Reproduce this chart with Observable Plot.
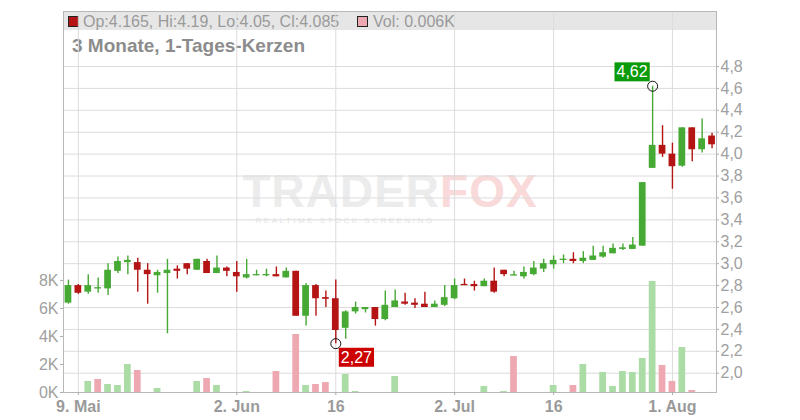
<!DOCTYPE html>
<html>
<head>
<meta charset="utf-8">
<script src="https://cdn.jsdelivr.net/npm/d3@7"></script>
<script src="https://cdn.jsdelivr.net/npm/@observablehq/plot@0.6"></script>
<style>
  body { margin: 0; background: #fff; font-family: "Liberation Sans", Arial, sans-serif; }
  #wrap { position: relative; width: 800px; height: 420px; overflow: hidden; }
  #wrap svg.plot { position: absolute; left: 0; top: 0; }
  .band { position: absolute; left: 63px; top: 11px; width: 653px; height: 19px; background: #e6e6e6; }
  .leg { position: absolute; top: 13px; font-size: 16px; color: #9a9a9a; line-height: 18px; white-space: nowrap; }
  .sq { position: absolute; top: 16px; width: 9px; height: 9px; border: 1px solid #222; }
  .title { position: absolute; left: 72px; top: 35px; font-size: 19px; font-weight: bold; color: #8c8c8c; white-space: nowrap; }
  .wm { position: absolute; left: 0; width: 780px; text-align: center; white-space: nowrap; }
  .wm1 { top: 173px; height: 36px; font-size: 46px; line-height: 36px; font-weight: bold; letter-spacing: 1px; overflow: visible; }
  .wm1 span { display: inline-block; height: 36px; line-height: 36px; }
  .wm2 { top: 216px; font-size: 8px; line-height: 9px; letter-spacing: 2.5px; color: #e4e4e4; padding-right: 90px; box-sizing: border-box; }
</style>
</head>
<body>
<div id="wrap">
  <div class="band"></div>
  <div class="sq" id="sq1" style="left:68px;background:#b41414"></div>
  <div class="leg" id="leg1" style="left:83px"></div>
  <div class="sq" id="sq2" style="left:357px;background:#eea8b1"></div>
  <div class="leg" id="leg2" style="left:373px"></div>
  <div class="title" id="title"></div>
  <div class="wm wm1"><span style="color:#ececec">TRADER</span><span style="color:#f9d9d9">FOX</span></div>
  <div class="wm wm2">REALTIME STOCK SCREENING</div>
</div>
<script>
// ---- data ----
const dates = [
  "2025-05-08","2025-05-09","2025-05-12","2025-05-13","2025-05-14","2025-05-15","2025-05-16","2025-05-19","2025-05-20","2025-05-21",
  "2025-05-22","2025-05-23","2025-05-26","2025-05-27","2025-05-28","2025-05-29","2025-05-30","2025-06-02","2025-06-03","2025-06-04",
  "2025-06-05","2025-06-06","2025-06-09","2025-06-10","2025-06-11","2025-06-12","2025-06-13","2025-06-16","2025-06-17","2025-06-18",
  "2025-06-19","2025-06-20","2025-06-23","2025-06-24","2025-06-25","2025-06-26","2025-06-27","2025-06-30","2025-07-01","2025-07-02",
  "2025-07-03","2025-07-04","2025-07-07","2025-07-08","2025-07-09","2025-07-10","2025-07-11","2025-07-14","2025-07-15","2025-07-16",
  "2025-07-17","2025-07-18","2025-07-21","2025-07-22","2025-07-23","2025-07-24","2025-07-25","2025-07-28","2025-07-29","2025-07-30",
  "2025-07-31","2025-08-01","2025-08-04","2025-08-05","2025-08-06","2025-08-07"
];
const open = [2.64,2.80,2.74,2.77,2.77,2.93,3.01,3.01,2.94,2.89, 2.91,2.95,3.00,2.94,3.02,2.91,2.96,2.92,2.87,2.89,
  2.89,2.90,2.87,2.93,2.52,2.80,2.69,2.68,2.41,2.56, 2.58,2.60,2.49,2.60,2.65,2.64,2.63,2.60,2.62,2.68,
  2.81,2.81,2.79,2.84,2.94,2.89,2.88,2.90,2.95,2.99, 3.03,3.04,3.02,3.03,3.06,3.09,3.13,3.13,3.16,3.87,
  4.08,4.00,3.89,4.24,4.04,4.165];
const high = [2.85,2.81,2.90,2.87,3.00,3.06,3.07,3.05,3.00,2.94, 3.04,2.98,3.00,3.04,3.04,3.07,2.97,3.02,3.04,2.94,
  2.95,2.97,2.96,2.93,2.82,2.81,2.75,2.85,2.57,2.65, 2.60,2.60,2.75,2.76,2.73,2.68,2.74,2.66,2.80,2.86,
  2.86,2.84,2.86,2.96,2.94,2.93,2.97,3.02,3.04,3.07, 3.08,3.10,3.11,3.16,3.16,3.18,3.18,3.24,3.74,4.62,
  4.26,4.10,4.24,4.24,4.32,4.19];
const low = [2.63,2.72,2.72,2.73,2.71,2.91,2.90,2.74,2.63,2.73, 2.36,2.86,2.90,2.94,2.91,2.91,2.88,2.74,2.86,2.89,
  2.88,2.88,2.87,2.52,2.43,2.52,2.60,2.27,2.31,2.54, 2.55,2.43,2.48,2.60,2.62,2.59,2.60,2.60,2.61,2.67,
  2.80,2.75,2.79,2.73,2.88,2.89,2.86,2.89,2.92,2.95, 3.00,3.00,3.00,3.03,3.05,3.09,3.12,3.13,3.16,3.87,
  3.97,3.68,3.88,3.93,4.01,4.05];
const close = [2.80,2.73,2.80,2.78,2.94,3.02,3.03,2.94,2.90,2.92, 2.94,2.93,2.95,3.04,2.91,2.96,2.93,2.88,2.90,2.90,
  2.90,2.88,2.93,2.52,2.80,2.68,2.675,2.39,2.56,2.60, 2.60,2.49,2.62,2.66,2.63,2.62,2.60,2.63,2.69,2.80,
  2.80,2.79,2.84,2.74,2.90,2.895,2.92,2.96,3.00,3.03, 3.04,3.02,3.05,3.07,3.10,3.14,3.145,3.17,3.74,4.08,
  4.00,3.885,4.24,4.04,4.14,4.085];
const volumeK = [0,0,0.79,0.93,0.57,0.50,2.00,1.57,0,0.29, 0,0,0,0.79,1.00,0.50,0,0,0.07,0,
  0,1.50,0,4.14,0.50,0.57,0.71,0,1.29,0.07, 0,0,0,1.14,0,0,0,0,0,0,
  0,0,0.43,0,0.07,2.57,0,0,0,0.50, 0,0.50,2.00,0,1.43,0.43,1.50,1.43,2.43,7.93,
  1.93,0.79,3.21,0.14,0,0.006];
const tickDates = ["2025-05-09","2025-06-02","2025-06-16","2025-07-02","2025-07-16","2025-08-01"];
const tickLabels = ["9. Mai","2. Jun","16","2. Jul","16","1. Aug"];
const priceTicks = [2.0,2.2,2.4,2.6,2.8,3.0,3.2,3.4,3.6,3.8,4.0,4.2,4.4,4.6,4.8];
const volTicksK = [0,2,4,6,8];
const volTickLabels = ["0K","2K","4K","6K","8K"];
const titleText = "3 Monate, 1-Tages-Kerzen";

// ---- styling ----
const GREEN = "#46a934", RED = "#b41414", VGREEN = "#abdca5", VRED = "#eea8b1";
const yMin = 1.824, yMax = 5.302;   // price scale domain
const volFull = 27.2;               // volume (K) spanning the full plot height
const vy = v => yMin + v / volFull * (yMax - yMin);

const data = dates.map((d, i) => {
  const o = open[i], c = close[i];
  let lo = Math.min(o, c), hi = Math.max(o, c);
  if (hi - lo < 0.012) { const m = (lo + hi) / 2; lo = m - 0.006; hi = m + 0.006; }
  return {i, date: d, o, h: high[i], l: low[i], c, v: volumeK[i], lo, hi,
    col: c >= o ? GREEN : RED,
    vcol: (i === 0 || c > close[i - 1]) ? VGREEN : VRED};
});
const tickIdx = tickDates.map(t => dates.indexOf(t));
const tickLab = new Map(tickIdx.map((k, j) => [k, tickLabels[j]]));
const volLab = new Map(volTicksK.map((k, j) => [vy(k), volTickLabels[j]]));
const fmt = v => d3.format(".2f")(v).replace(".", ",");
const hiI = d3.maxIndex(high), loI = d3.minIndex(low);
const ann = [
  {i: hiI, y: high[hiI], text: fmt(high[hiI]), bg: "#0a9a0a"},
  {i: loI, y: low[loI], text: fmt(low[loI]), bg: "#cc0000"}
];

const last = data.length - 1;
document.getElementById("leg1").textContent =
  `Op:${open[last]}, Hi:${high[last]}, Lo:${low[last]}, Cl:${close[last]}`;
document.getElementById("leg2").textContent = `Vol: ${volumeK[last].toFixed(3)}K`;
document.getElementById("title").textContent = titleText;

const plot = Plot.plot({
  width: 800, height: 420,
  marginLeft: 63, marginRight: 84, marginTop: 11, marginBottom: 28,
  style: {background: "transparent", color: "#a0a0a0", fontFamily: "'Liberation Sans', Arial, sans-serif", fontSize: "16px"},
  x: {type: "linear", domain: [-0.5, 65.45]},
  y: {domain: [yMin, yMax]},
  color: {type: "identity"},
  marks: [
    Plot.gridY({ticks: priceTicks, stroke: "#dcdcdc", strokeOpacity: 1}),
    Plot.gridX({ticks: tickIdx, stroke: "#dcdcdc", strokeOpacity: 1}),
    Plot.frame({stroke: "#b8b8b8"}),
    Plot.rect(data.filter(d => d.v > 0), {x1: d => d.i - 0.34, x2: d => d.i + 0.34, y1: yMin, y2: d => vy(d.v), fill: "vcol"}),
    Plot.ruleX(data, {x: "i", y1: "l", y2: "h", stroke: "col", strokeWidth: 1.4}),
    Plot.rect(data, {x1: d => d.i - 0.34, x2: d => d.i + 0.34, y1: "lo", y2: "hi", fill: "col"}),
    Plot.dot(ann, {x: "i", y: "y", r: 5, stroke: "#111", fill: "none", strokeWidth: 1}),
    Plot.text(ann.slice(0, 1), {x: "i", y: "y", text: "text", textAnchor: "end", dx: -5, dy: -14, fill: "#fff", fontSize: 16}),
    Plot.text(ann.slice(1), {x: "i", y: "y", text: "text", textAnchor: "start", dx: 5, dy: 14, fill: "#fff", fontSize: 16}),
    Plot.axisY({anchor: "right", ticks: priceTicks, tickFormat: d => d.toFixed(1).replace(".", ","), tickSize: 2, tickPadding: 2, label: null, fontSize: 16}),
    Plot.axisY({anchor: "left", ticks: volTicksK.map(vy), tickFormat: d => volLab.get(d), tickSize: 3, tickPadding: 2, label: null, fontSize: 16}),
    Plot.axisX({ticks: tickIdx, tickFormat: d => tickLab.get(d), tickSize: 3, tickPadding: 5, label: null, fontSize: 16})
  ]
});
plot.classList.add("plot");
document.getElementById("wrap").appendChild(plot);

// boxes behind the annotation labels
const svg = d3.select(plot);
svg.selectAll('g[aria-label="text"] text').each(function(_, k) {
  const b = this.getBBox();
  const r = document.createElementNS("http://www.w3.org/2000/svg", "rect");
  r.setAttribute("x", b.x - 2); r.setAttribute("y", b.y + b.height / 2 - 9.5);
  r.setAttribute("width", b.width + 4); r.setAttribute("height", 19);
  r.setAttribute("fill", ann[k].bg);
  const t = this.getAttribute("transform"); if (t) r.setAttribute("transform", t);
  this.parentNode.insertBefore(r, this);
});
svg.selectAll('g[aria-label="x-axis tick label"] text').attr("font-weight", "bold").attr("fill", "#9a9a9a");
svg.selectAll('g[aria-label="y-axis tick"], g[aria-label="x-axis tick"]').attr("stroke", "#aaa");
</script>
</body>
</html>
